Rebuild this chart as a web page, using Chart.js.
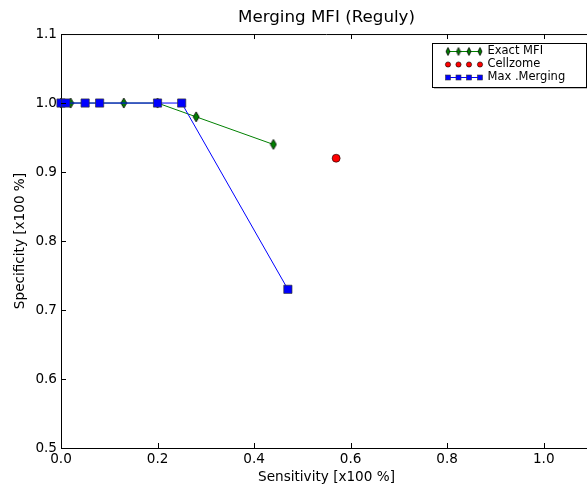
<!DOCTYPE html>
<html>
<head>
<meta charset="utf-8">
<script src="https://cdn.jsdelivr.net/npm/chart.js@4/dist/chart.umd.min.js"></script>
<style>
  html, body { margin: 0; padding: 0; background: #fff; overflow: hidden; width: 587px; height: 489px; }
  canvas { display: block; }
</style>
</head>
<body>
<canvas id="c" width="592" height="489"></canvas>
<script>
// ---- data ----
const exactMfiX = [0.0, 0.02, 0.13, 0.2, 0.28, 0.44];
const exactMfiY = [1.0, 1.0, 1.0, 1.0, 0.98, 0.94];
const cellzomeX = [0.57];
const cellzomeY = [0.92];
const maxMergingX = [0.0, 0.01, 0.05, 0.08, 0.2, 0.25, 0.47];
const maxMergingY = [1.0, 1.0, 1.0, 1.0, 1.0, 1.0, 0.73];
const seriesNames = ['Exact MFI', 'Cellzome', 'Max .Merging'];
const xTicks = [0.0, 0.2, 0.4, 0.6, 0.8, 1.0];
const yTicks = [0.5, 0.6, 0.7, 0.8, 0.9, 1.0, 1.1];

const FONT = "'DejaVu Sans', 'Liberation Sans', sans-serif";
const GREEN = '#008000', BLUE = '#0000ff', RED = '#ff0000';

function pts(xs, ys) { return xs.map((x, i) => ({ x: x, y: ys[i] })); }

function thinDiamond(w, h, fill) {
  const c = document.createElement('canvas');
  c.width = w + 2; c.height = h + 2;
  const g = c.getContext('2d');
  g.beginPath();
  g.moveTo(c.width / 2, 1);
  g.lineTo(c.width - 1, c.height / 2);
  g.lineTo(c.width / 2, c.height - 1);
  g.lineTo(1, c.height / 2);
  g.closePath();
  g.fillStyle = fill; g.fill();
  g.lineWidth = 0.8; g.strokeStyle = '#000'; g.stroke();
  return c;
}
const diamondImg = thinDiamond(6, 10, GREEN);
const diamondSmall = thinDiamond(4, 8, GREEN);

const frameAndLegend = {
  id: 'frameAndLegend',
  afterDatasetsDraw(chart) {
    const ctx = chart.ctx, a = chart.chartArea;
    const xs = chart.scales.x, ys = chart.scales.y;
    ctx.save();
    ctx.strokeStyle = '#000'; ctx.lineWidth = 1;
    // top spine
    ctx.beginPath();
    ctx.moveTo(a.left, a.top + 0.5); ctx.lineTo(a.right, a.top + 0.5);
    ctx.stroke();
    // inward ticks
    ctx.beginPath();
    xTicks.forEach(v => {
      const px = Math.round(xs.getPixelForValue(v)) + 0.5;
      ctx.moveTo(px, a.bottom); ctx.lineTo(px, a.bottom - 5);
      ctx.moveTo(px, a.top); ctx.lineTo(px, a.top + 5);
    });
    yTicks.forEach(v => {
      const py = Math.round(ys.getPixelForValue(v)) + 0.5;
      ctx.moveTo(a.left, py); ctx.lineTo(a.left + 5, py);
    });
    ctx.stroke();

    // legend
    const bx = 432, by = 43, bw = 154, bh = 44;
    ctx.fillStyle = 'rgba(0,0,0,0.25)';
    ctx.fillRect(bx + 2, by + 2, bw, bh);
    ctx.fillStyle = '#fff';
    ctx.fillRect(bx, by, bw, bh);
    ctx.strokeStyle = '#000'; ctx.lineWidth = 1;
    ctx.strokeRect(bx + 0.5, by + 0.5, bw, bh);
    const rows = [51, 64, 77];
    const mx = [448, 458.5, 469, 480];
    ctx.font = '11.5px ' + FONT;
    ctx.textBaseline = 'middle';
    rows.forEach((ry, i) => {
      if (i !== 1) {
        ctx.strokeStyle = i === 0 ? GREEN : BLUE;
        ctx.lineWidth = 1;
        ctx.beginPath(); ctx.moveTo(mx[0], ry + 0.5); ctx.lineTo(mx[3], ry + 0.5); ctx.stroke();
      }
      mx.forEach(x => {
        if (i === 0) {
          ctx.drawImage(diamondSmall, x - diamondSmall.width / 2, ry - diamondSmall.height / 2 + 0.5);
        } else if (i === 1) {
          ctx.beginPath(); ctx.arc(x, ry + 0.5, 2.6, 0, Math.PI * 2);
          ctx.fillStyle = RED; ctx.fill();
          ctx.lineWidth = 0.6; ctx.strokeStyle = '#000'; ctx.stroke();
        } else {
          ctx.fillStyle = BLUE; ctx.fillRect(x - 2.5, ry - 2, 5, 5);
          ctx.lineWidth = 0.6; ctx.strokeStyle = '#333'; ctx.strokeRect(x - 2.5, ry - 2, 5, 5);
        }
      });
      ctx.fillStyle = '#000';
      ctx.fillText(seriesNames[i], 487.5, ry + 0.5);
    });
    ctx.restore();
  }
};

new Chart(document.getElementById('c'), {
  type: 'scatter',
  data: {
    datasets: [
      {
        label: seriesNames[0], data: pts(exactMfiX, exactMfiY), showLine: true,
        borderColor: GREEN, borderWidth: 1, pointStyle: diamondImg,
        backgroundColor: GREEN, clip: false, order: 2
      },
      {
        label: seriesNames[1], data: pts(cellzomeX, cellzomeY), showLine: false,
        pointStyle: 'circle', pointRadius: 4, backgroundColor: RED,
        pointBorderColor: '#000', pointBorderWidth: 0.6, clip: false, order: 1
      },
      {
        label: seriesNames[2], data: pts(maxMergingX, maxMergingY), showLine: true,
        borderColor: BLUE, borderWidth: 1, pointStyle: 'rect', pointRadius: 5.8,
        backgroundColor: BLUE, pointBorderColor: '#333', pointBorderWidth: 0.7,
        clip: false, order: 0
      }
    ]
  },
  options: {
    responsive: false,
    animation: false,
    events: [],
    layout: { autoPadding: false, padding: 0 },
    plugins: {
      legend: { display: false },
      tooltip: { enabled: false },
      title: {
        display: true, text: 'Merging MFI (Reguly)', fullSize: false,
        color: '#000', font: { family: FONT, size: 16.7, weight: 'normal' },
        padding: { top: 8, bottom: 6 }
      }
    },
    scales: {
      x: {
        type: 'linear', min: 0, max: 1.1,
        afterFit(s) { s.height = 41; s.paddingLeft = 0; s.paddingRight = 0; },
        afterBuildTicks(s) { s.ticks = xTicks.map(v => ({ value: v })); },
        grid: { display: false, drawTicks: false },
        border: { display: true, color: '#000', width: 1 },
        ticks: {
          color: '#000', font: { family: FONT, size: 13.6 }, padding: 3,
          maxRotation: 0, autoSkip: false,
          callback: v => Number(v).toFixed(1)
        },
        title: {
          display: true, text: 'Sensitivity [x100 %]', color: '#000',
          font: { family: FONT, size: 13.6 }, padding: { top: 0, bottom: 3.8 }
        }
      },
      y: {
        type: 'linear', min: 0.5, max: 1.1,
        afterFit(s) { s.width = 61; s.paddingTop = 0; s.paddingBottom = 0; },
        afterBuildTicks(s) { s.ticks = yTicks.map(v => ({ value: v })); },
        grid: { display: false, drawTicks: false },
        border: { display: true, color: '#000', width: 1 },
        ticks: {
          color: '#000', font: { family: FONT, size: 13.6 }, padding: 4,
          autoSkip: false,
          callback: v => Number(v).toFixed(1)
        },
        title: {
          display: true, text: 'Specificity [x100 %]', color: '#000',
          font: { family: FONT, size: 13.6 }, padding: { top: 12, bottom: 0 }
        }
      }
    }
  },
  plugins: [frameAndLegend]
});
</script>
</body>
</html>
